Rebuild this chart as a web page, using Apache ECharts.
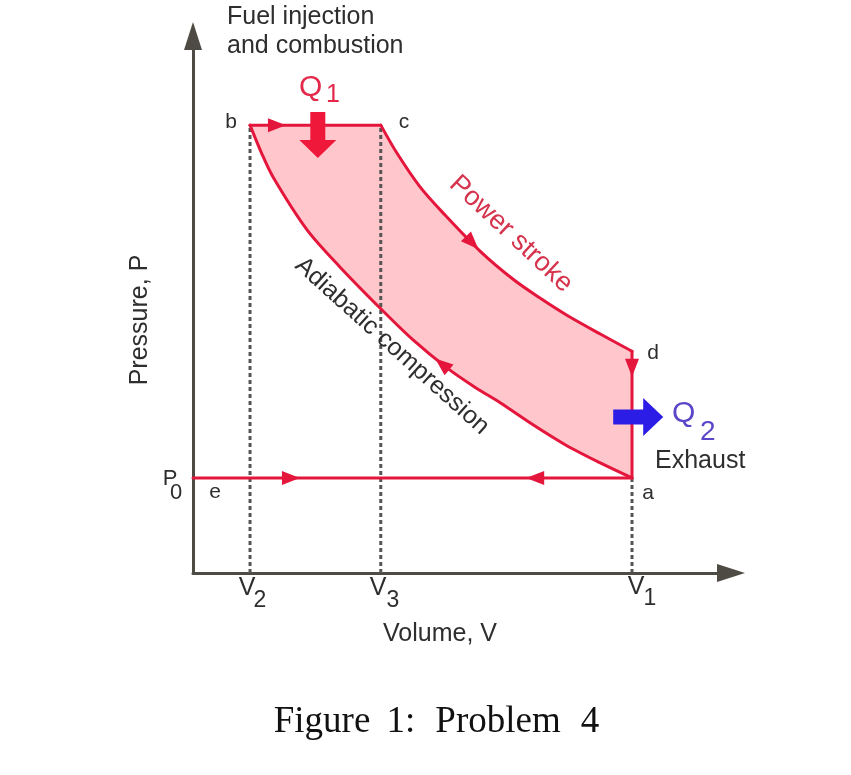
<!DOCTYPE html>
<html><head><meta charset="utf-8">
<script src="https://cdn.jsdelivr.net/npm/echarts@6/dist/echarts.min.js"></script>
<style>html,body{margin:0;padding:0;background:#fff}#c{width:851px;height:775px}</style>
</head><body><div id="c"></div>
<script>
// ---- data (arbitrary units: volume V, pressure P) ----
const V2 = 1.06, V3 = 3.49, V1 = 8.16;
const P0 = 1.77, Pb = 8.34, Pd = 4.13;
// power stroke c -> d
const powerV = [3.49, 3.79, 4.22, 4.68, 5.33, 5.95, 6.45, 6.95, 7.57, 8.16];
const powerP = [8.34, 7.82, 7.19, 6.67, 6.00, 5.47, 5.12, 4.80, 4.45, 4.13];
// adiabatic compression b ... a (listed by increasing V)
const compV = [1.06, 1.27, 1.49, 2.12, 2.73, 3.49, 4.09, 4.72, 5.24, 5.71, 6.32, 6.95, 7.57, 8.16];
const compP = [8.34, 7.83, 7.37, 6.39, 5.70, 4.92, 4.34, 3.82, 3.46, 3.17, 2.76, 2.37, 2.05, 1.77];
// direction arrows on the cycle: position and direction
const arrowV = [1.56, 5.19, 8.16, 6.36, 1.82, 4.63];
const arrowP = [8.34, 6.15, 3.82, 1.77, 1.77, 3.89];
const arrowDV = [1, 1, 0, -1, 1, -1];
const arrowDP = [0, -1.03, -1, 0, 0, 0.82];
// heat arrows (tip positions and direction): Q1 in, Q2 out
const heatV = [2.32, 8.74];
const heatP = [7.73, 2.905];
const heatDV = [0, 1];
const heatDP = [-1, 0];
const axisMax = 10;

const zip = (a, b) => a.map((v, i) => [v, b[i]]);
const RED = '#e4163c';
const cycle = [[V2, Pb]].concat(zip(powerV, powerP), [[V1, P0]], zip(compV, compP).reverse());

const chart = echarts.init(document.getElementById('c'), null, {renderer: 'canvas'});

const arrowData = arrowV.map((v, i) => [v, arrowP[i], arrowDV[i], arrowDP[i]]);
const heatData = heatV.map((v, i) => [v, heatP[i], heatDV[i], heatDP[i]]);
const heatStyle = [
  {len: 46, hl: 18, hw: 37, sw: 15, color: '#f0183a'},
  {len: 50, hl: 20, hw: 38, sw: 15, color: '#2c1de6'}
];

function dirOf(api) {
  const p = api.coord([api.value(0), api.value(1)]);
  const q = api.coord([api.value(0) + api.value(2) * 0.1, api.value(1) + api.value(3) * 0.1]);
  const a = Math.atan2(q[1] - p[1], q[0] - p[0]);
  return {p, c: Math.cos(a), s: Math.sin(a)};
}

const font = 'Liberation Sans, Arial, sans-serif';
function txt(text, x, y, size, color) {
  return {
    type: 'text', x, y, z: 100,
    style: {text, font: size + 'px ' + font, fill: color || '#2e2e2e', align: 'left', verticalAlign: 'middle'}
  };
}
function ctxt(text, x, y, size, color, rot) {
  return {
    type: 'text', x, y, z: 100, rotation: rot || 0,
    style: {text, font: size + 'px ' + font, fill: color || '#2e2e2e', align: 'center', verticalAlign: 'middle'}
  };
}
const serif = '37px "Liberation Serif", "Times New Roman", serif';
function cap(text, x) {
  return {type: 'text', x, y: 722, z: 100, style: {text, font: serif, fill: '#111', align: 'center', verticalAlign: 'middle'}};
}

const line = (data, extra) => Object.assign({
  type: 'line', data, symbol: 'none', silent: true, z: 3,
  lineStyle: {color: RED, width: 3, cap: 'round', join: 'round'}
}, extra || {});
const dotted = (data) => ({
  type: 'line', data, symbol: 'none', silent: true, z: 2,
  lineStyle: {color: '#555', width: 3, type: [4, 3]}
});

const axisCommon = {
  type: 'value', min: 0, max: axisMax,
  axisLine: {show: true, onZero: false, symbol: ['none', 'triangle'], symbolSize: [18, 28],
    lineStyle: {color: '#4e4b44', width: 3}},
  axisTick: {show: false}, axisLabel: {show: false}, splitLine: {show: false}
};

const option = {
  animation: false,
  grid: {left: 193, right: 120, top: 36, bottom: 202},
  xAxis: axisCommon,
  yAxis: axisCommon,
  series: [
    {
      type: 'custom', data: cycle, silent: true, z: 1,
      renderItem(params, api) {
        if (params.dataIndex !== 0) return null;
        const pts = cycle.map(d => api.coord(d));
        return {type: 'polygon', shape: {points: pts}, style: {fill: '#ffc6cb'}};
      }
    },
    dotted([[V2, 0], [V2, Pb]]),
    dotted([[V3, 0], [V3, Pb]]),
    dotted([[V1, 0], [V1, P0]]),
    line([[V2, Pb], [V3, Pb]]),
    line(zip(powerV, powerP), {smooth: 0.3}),
    line([[V1, Pd], [V1, P0]]),
    line(zip(compV, compP), {smooth: 0.3}),
    line([[0, P0], [V1, P0]]),
    {
      type: 'custom', data: arrowData, silent: true, z: 5,
      renderItem(params, api) {
        const {p, c, s} = dirOf(api);
        const L = 18, W = 14;
        const tip = [p[0] + c * L / 2, p[1] + s * L / 2];
        const bk = [p[0] - c * L / 2, p[1] - s * L / 2];
        return {type: 'polygon', shape: {points: [tip, [bk[0] - s * W / 2, bk[1] + c * W / 2], [bk[0] + s * W / 2, bk[1] - c * W / 2]]},
          style: {fill: RED}};
      }
    },
    {
      type: 'custom', data: heatData, silent: true, z: 6,
      renderItem(params, api) {
        const {p, c, s} = dirOf(api);
        const st = heatStyle[params.dataIndex];
        const P = (u, n) => [p[0] + c * u - s * n, p[1] + s * u + c * n];
        const pts = [P(0, 0), P(-st.hl, st.hw / 2), P(-st.hl, st.sw / 2), P(-st.len, st.sw / 2),
          P(-st.len, -st.sw / 2), P(-st.hl, -st.sw / 2), P(-st.hl, -st.hw / 2)];
        return {type: 'polygon', shape: {points: pts}, style: {fill: st.color}};
      }
    }
  ],
  graphic: [
    txt('Fuel injection', 227, 17, 25),
    txt('and combustion', 227, 46, 25),
    txt('Q', 299, 88, 30, '#e3284a'),
    txt('1', 326, 95, 25, '#e3284a'),
    ctxt('b', 231, 122, 21),
    ctxt('c', 404, 122, 21),
    ctxt('d', 653, 353, 21),
    ctxt('a', 648, 493, 21),
    ctxt('e', 215, 492, 21),
    ctxt('P', 170, 479, 22),
    ctxt('0', 176, 493, 22),
    txt('Q', 672, 414, 30, '#5a46c8'),
    txt('2', 700, 432, 28, '#5a46c8'),
    txt('Exhaust', 655, 461, 25),
    ctxt('Power stroke', 511, 234, 27, '#d6334d', -43 * Math.PI / 180),
    ctxt('Adiabatic compression', 392, 346, 25, '#2e2e2e', -42 * Math.PI / 180),
    ctxt('V', 247, 588, 25), ctxt('2', 260, 601, 23),
    ctxt('V', 378, 588, 25), ctxt('3', 393, 601, 23),
    ctxt('V', 636, 587, 25), ctxt('1', 650, 599, 23),
    ctxt('Volume, V', 440, 634, 25),
    ctxt('Pressure, P', 140, 320, 25, '#2e2e2e', Math.PI / 2),
    cap('Figure', 322), cap('1:', 401), cap('Problem', 498), cap('4', 590)
  ]
};
chart.setOption(option);
</script></body></html>
